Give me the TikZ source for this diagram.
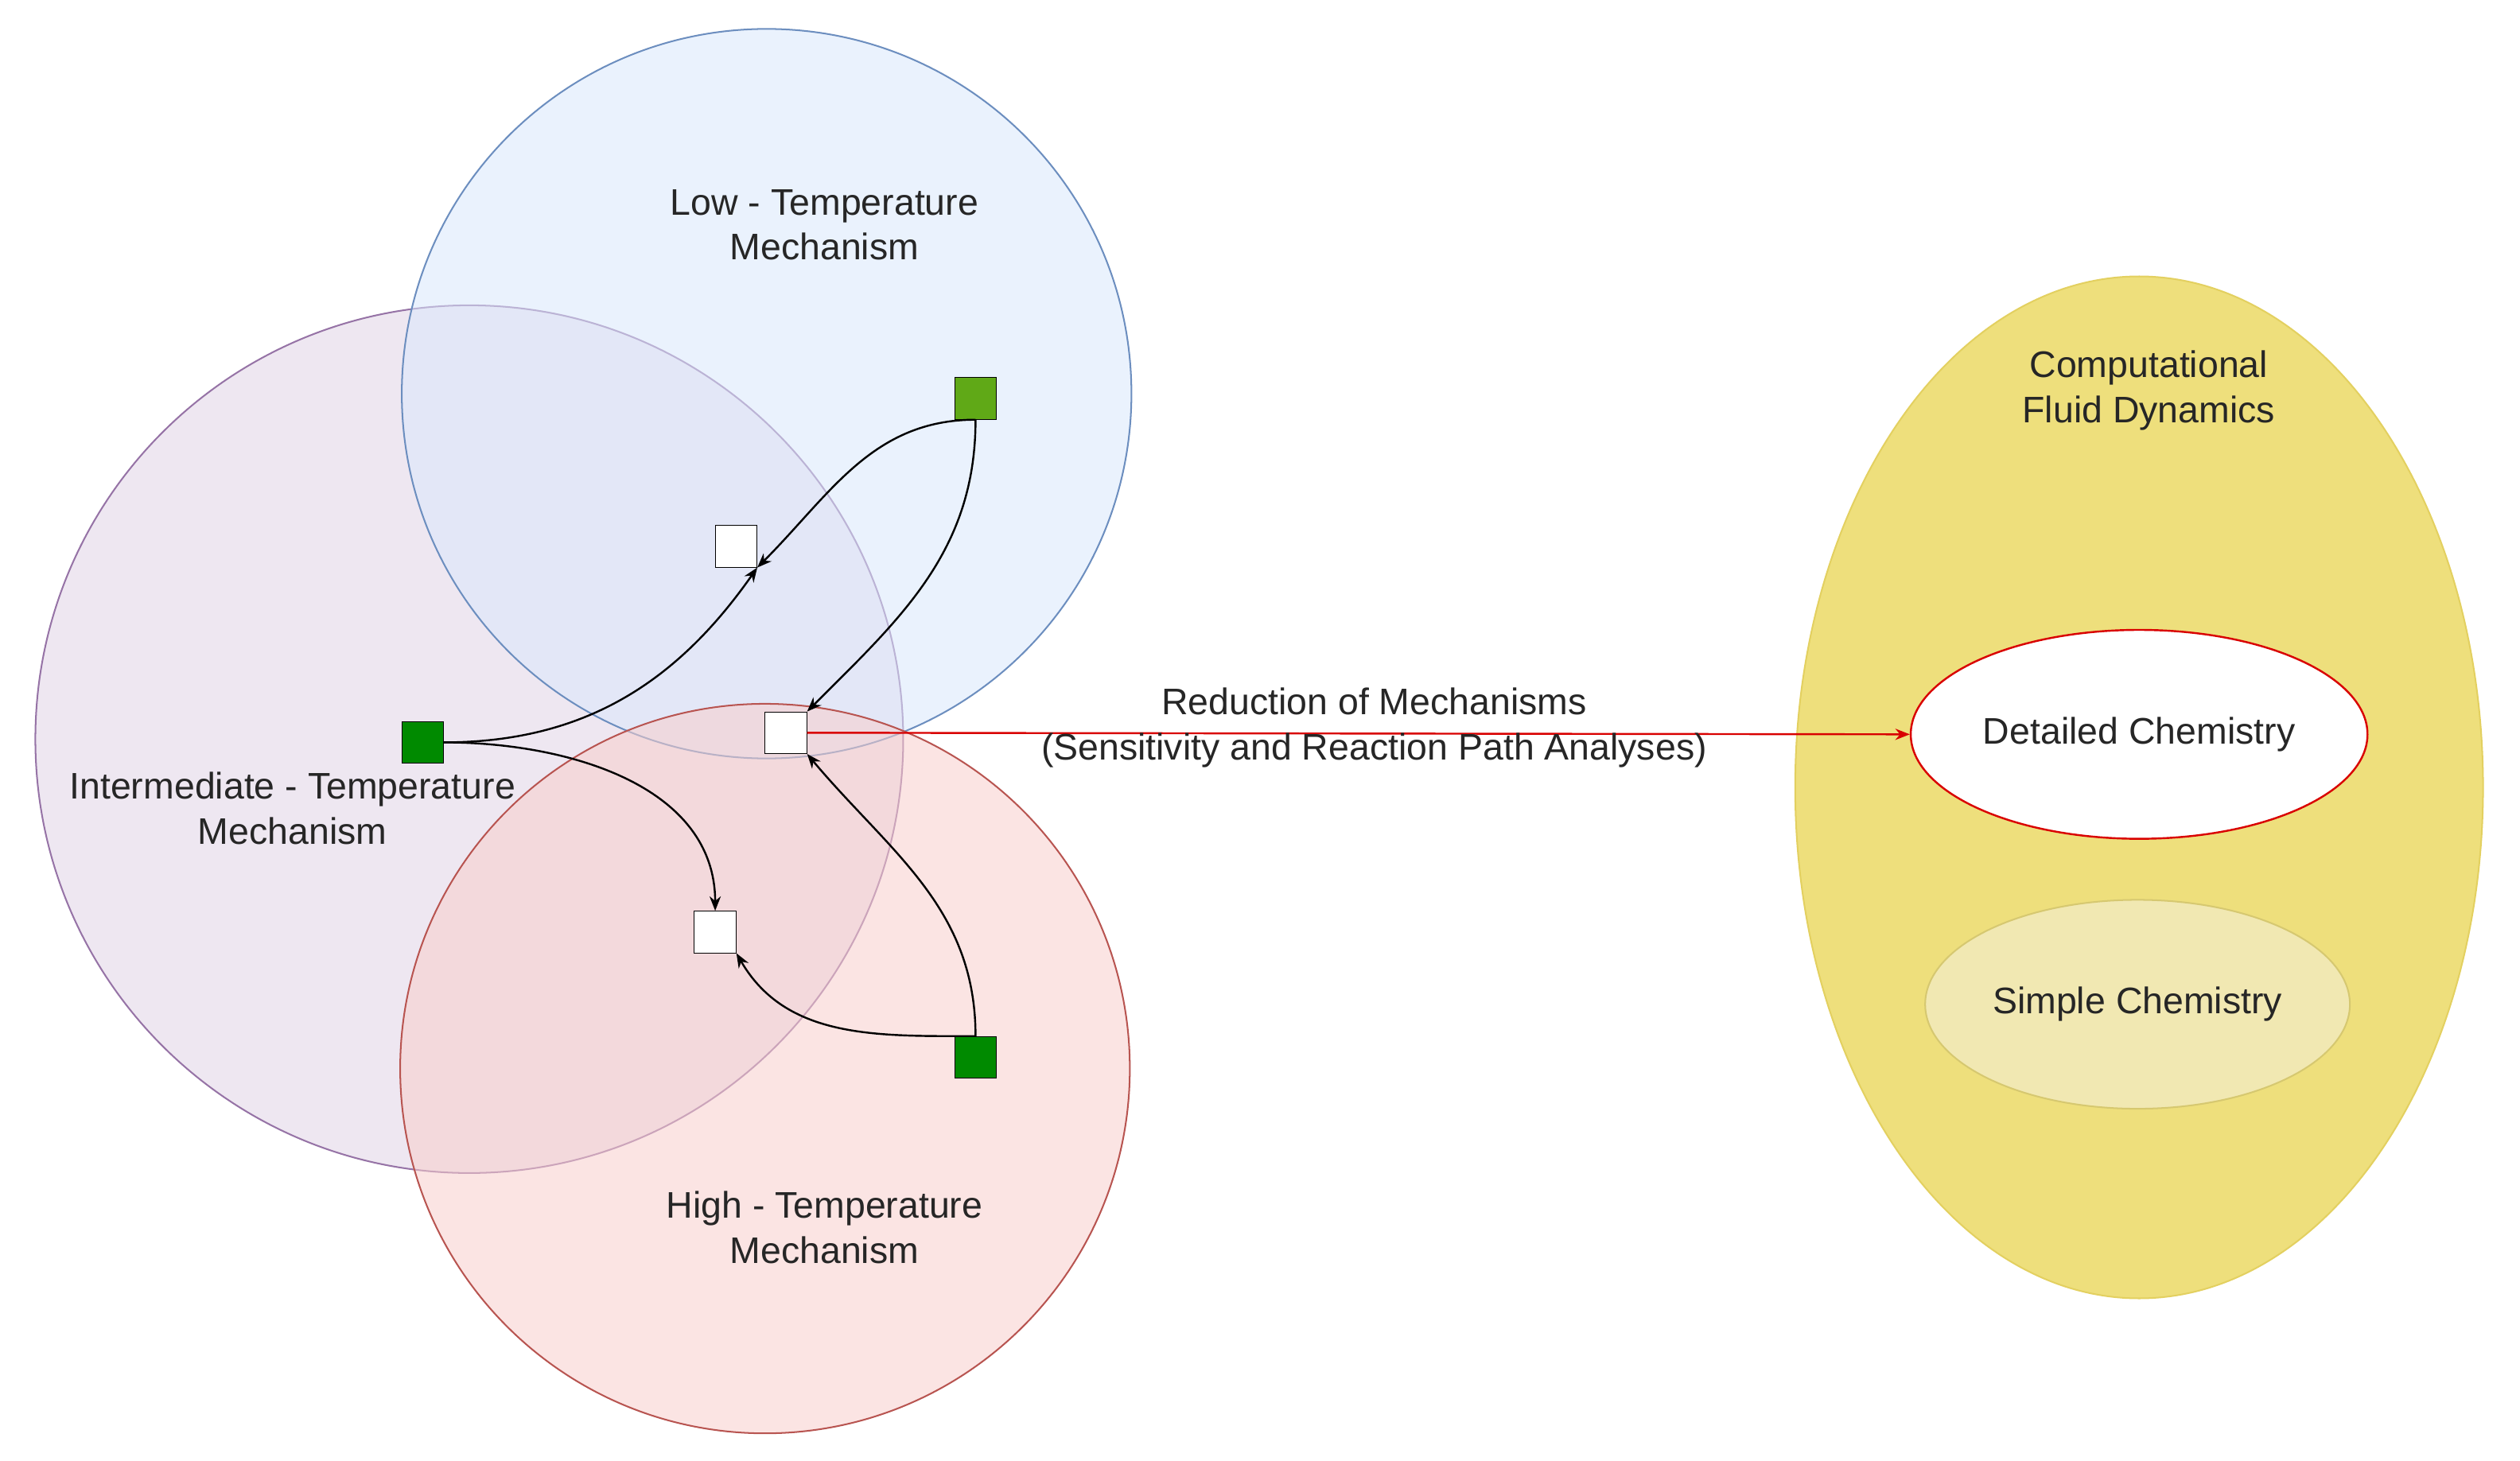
\documentclass[tikz,border=0pt]{standalone}
\usepackage{fontspec}
\setmainfont{Liberation Sans}
\usetikzlibrary{shapes.geometric,arrows.meta}
\definecolor{lowF}{HTML}{DAE8FC}\definecolor{lowD}{HTML}{6C8EBF}
\definecolor{midF}{HTML}{E1D5E7}\definecolor{midD}{HTML}{9673A6}
\definecolor{hiF}{HTML}{F8CECC}\definecolor{hiD}{HTML}{B85450}
\definecolor{cfdF}{HTML}{EEDF7C}\definecolor{cfdD}{HTML}{E3D060}
\definecolor{simF}{HTML}{F1E8B2}\definecolor{simD}{HTML}{D6C870}
\definecolor{g1}{HTML}{60A917}\definecolor{g2}{HTML}{008A00}
\begin{document}
\begin{tikzpicture}[x=1pt,y=-1pt,
  lab/.style={font=\fontsize{23}{28}\selectfont,align=center,text=black!85},
  sq/.style={draw=black,minimum size=26pt,inner sep=0pt},
  arr/.style={-{Stealth[length=9pt,width=7pt]},line width=1.2pt}]
\useasboundingbox (0,0) rectangle (1568,909);
\fill[white] (0,0) rectangle (1568,909);
\begin{scope}[fill opacity=0.55]
\draw[fill=midF,draw=midD,line width=1pt] (292,460) circle (270pt);
\draw[fill=lowF,draw=lowD,line width=1pt] (477,245) circle (227pt);
\draw[fill=hiF,draw=hiD,line width=1pt] (476,665) circle (227pt);
\end{scope}
\node[ellipse,draw=cfdD,fill=cfdF,line width=1pt,minimum width=428pt,minimum height=636pt] (cfd) at (1331,490) {};
\node[ellipse,draw=red!85!black,fill=white,line width=1.2pt,minimum width=260pt,minimum height=130pt,lab] (det) at (1331,457) {Detailed Chemistry};
\node[ellipse,draw=simD,fill=simF,line width=1pt,minimum width=260pt,minimum height=130pt,lab] (sim) at (1330,625) {Simple Chemistry};
\node[lab] at (1337,243) {Computational\\Fluid Dynamics};
\node[lab] at (513,140) {Low - Temperature\\Mechanism};
\node[lab] at (182,503) {Intermediate - Temperature\\Mechanism};
\node[lab] at (513,764) {High - Temperature\\Mechanism};
\node[sq,fill=g1] (gl) at (607,248) {};
\node[sq,fill=g2] (gi) at (263,462) {};
\node[sq,fill=g2] (gh) at (607,658) {};
\node[sq,fill=white] (wl) at (458,340) {};
\node[sq,fill=white] (wc) at (489,456) {};
\node[sq,fill=white] (wh) at (445,580) {};
\draw[arr] (gl.south) to[out=270,in=45] (wc.north east);
\draw[arr] (gl.south) ++(0,0) coordinate (ga) (ga) to[out=180,in=45] (wl.south east);
\draw[arr] (gi.east) to[out=0,in=235] (wl.south east);
\draw[arr] (gi.east) to[out=0,in=90] (wh.north);
\draw[arr] (gh.north) to[out=90,in=-50] (wc.south east);
\draw[arr] (gh.north) to[out=180,in=-60] (wh.south east);
\draw[-{Stealth[length=9pt,width=7pt]},red!85!black,line width=1.2pt] (wc.east) -- (det.west);
\node[lab] at (855,453) {Reduction of Mechanisms\\(Sensitivity and Reaction Path Analyses)};
\end{tikzpicture}
\end{document}
